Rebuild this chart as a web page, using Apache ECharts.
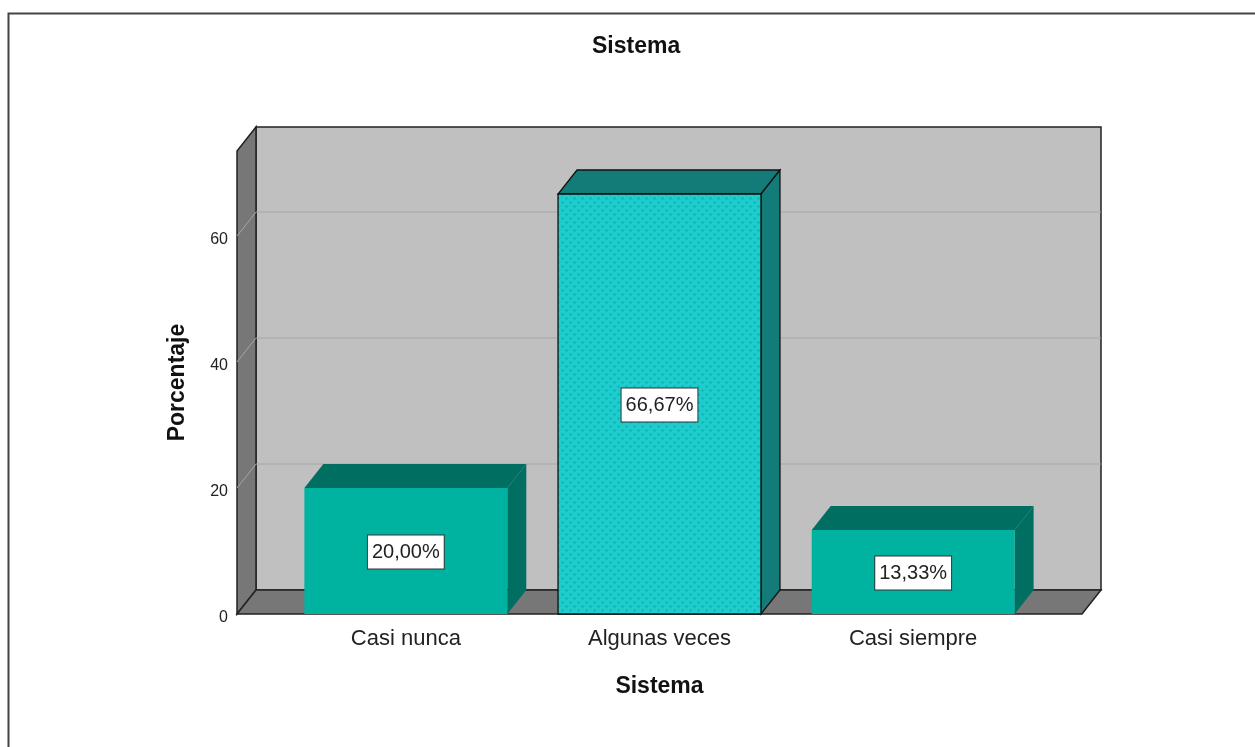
<!DOCTYPE html>
<html>
<head>
<meta charset="utf-8">
<script src="https://cdn.jsdelivr.net/npm/echarts@6/dist/echarts.min.js"></script>
<style>
html,body{margin:0;padding:0;background:#fff;}
#chart{width:1255px;height:747px;}
</style>
</head>
<body>
<div id="chart"></div>
<script>
// ---- data ----
const categories = ['Casi nunca', 'Algunas veces', 'Casi siempre'];
const percentages = [20.00, 66.67, 13.33];
const valueLabels = ['20,00%', '66,67%', '13,33%'];
const yTicks = [0, 20, 40, 60];

// ---- style constants ----
const DX = 19, DY = -24, PAD = 42;
const FONT = 'Liberation Sans, Arial, sans-serif';

function makePattern() {
  const c = document.createElement('canvas');
  c.width = 8; c.height = 8;
  const g = c.getContext('2d');
  g.fillStyle = '#1dcdcd'; g.fillRect(0, 0, 8, 8);
  g.fillStyle = '#17b4b4';
  [[2, 2], [6, 6]].forEach(([x, y]) => {
    g.fillRect(x - 1, y, 3, 1);
    g.fillRect(x, y - 1, 1, 3);
  });
  return c;
}
const pattern = makePattern();

const barStyles = [
  {front: '#00b3a0', dark: '#006f62', stroke: null},
  {front: {image: pattern, repeat: 'repeat'}, dark: '#137c78', stroke: '#111'},
  {front: '#00b3a0', dark: '#006f62', stroke: null}
];

function renderWalls(params, api) {
  const cs = params.coordSys;
  const x0 = cs.x - PAD, x1 = cs.x + cs.width + PAD;
  const yT = cs.y, yB = cs.y + cs.height;
  return {
    type: 'group',
    children: [
      {type: 'rect', shape: {x: x0 + DX, y: yT + DY, width: x1 - x0, height: yB - yT},
        style: {fill: '#c0c0c0', stroke: '#222', lineWidth: 1.5}},
      {type: 'polygon', shape: {points: [[x0, yB], [x0, yT], [x0 + DX, yT + DY], [x0 + DX, yB + DY]]},
        style: {fill: '#777777', stroke: '#222', lineWidth: 1.5}},
      {type: 'polygon', shape: {points: [[x0, yB], [x1, yB], [x1 + DX, yB + DY], [x0 + DX, yB + DY]]},
        style: {fill: '#777777', stroke: '#222', lineWidth: 1.5}}
    ]
  };
}

function renderGrid(params, api) {
  const cs = params.coordSys;
  const x0 = cs.x - PAD, x1 = cs.x + cs.width + PAD;
  const y = api.coord([0, api.value(0)])[1];
  return {
    type: 'group',
    children: [
      {type: 'line', shape: {x1: x0, y1: y, x2: x0 + DX, y2: y + DY}, style: {stroke: '#a6a6a6', lineWidth: 1}},
      {type: 'line', shape: {x1: x0 + DX, y1: y + DY, x2: x1 + DX, y2: y + DY}, style: {stroke: '#a6a6a6', lineWidth: 1}}
    ]
  };
}

function renderBar(params, api) {
  const i = params.dataIndex;
  const top = api.coord([api.value(0), api.value(1)]);
  const base = api.coord([api.value(0), 0]);
  const band = api.size([1, 0])[0];
  const w = band * 0.8;
  const xl = top[0] - w / 2, xr = top[0] + w / 2, yt = top[1], yb = base[1];
  const st = barStyles[i];
  const stroke = st.stroke || 'rgba(0,0,0,0)';
  const lw = st.stroke ? 1.3 : 0;
  return {
    type: 'group',
    children: [
      {type: 'polygon', shape: {points: [[xl, yt], [xr, yt], [xr + DX, yt + DY], [xl + DX, yt + DY]]},
        style: {fill: st.dark, stroke: stroke, lineWidth: lw}},
      {type: 'polygon', shape: {points: [[xr, yb], [xr, yt], [xr + DX, yt + DY], [xr + DX, yb + DY]]},
        style: {fill: st.dark, stroke: stroke, lineWidth: lw}},
      {type: 'rect', shape: {x: xl, y: yt, width: w, height: yb - yt},
        style: {fill: st.front, stroke: stroke, lineWidth: lw}},
      {type: 'text', x: top[0], y: (yt + yb) / 2 + 1,
        style: {text: valueLabels[i], fill: '#222', font: '20px ' + FONT,
          align: 'center', verticalAlign: 'middle',
          backgroundColor: '#fff', borderColor: '#333', borderWidth: 1,
          padding: [7, 4, 6, 4]}}
    ]
  };
}

const chart = echarts.init(document.getElementById('chart'), null, {renderer: 'canvas'});
chart.setOption({
  animation: false,
  backgroundColor: '#fff',
  title: {
    text: 'Sistema', left: 587, top: 30,
    textStyle: {fontFamily: FONT, fontSize: 23, fontWeight: 'bold', color: '#111'}
  },
  graphic: [{
    type: 'rect', left: 6, top: 11, z: -10,
    shape: {x: 0, y: 0, width: 1300, height: 800},
    style: {fill: 'none', stroke: '#444', lineWidth: 2}
  }],
  grid: {left: 279, right: 215, top: 151, bottom: 133},
  xAxis: {
    type: 'category', data: categories,
    axisLine: {show: false}, axisTick: {show: false}, splitLine: {show: false},
    axisLabel: {fontFamily: FONT, fontSize: 22, color: '#222', margin: 14},
    name: 'Sistema', nameLocation: 'middle', nameGap: 61,
    nameTextStyle: {fontFamily: FONT, fontSize: 23, fontWeight: 'bold', color: '#111'}
  },
  yAxis: {
    type: 'value', min: 0, max: 73.5, interval: 20,
    axisLine: {show: false}, axisTick: {show: false}, splitLine: {show: false},
    axisLabel: {fontFamily: FONT, fontSize: 16, color: '#222', margin: 51, showMaxLabel: false,
      formatter: v => (yTicks.indexOf(v) >= 0 ? '{t|' + v + '}' : ''),
      rich: {t: {fontFamily: FONT, fontSize: 16, color: '#222', padding: [8, 0, 0, 0]}}},
    name: 'Porcentaje', nameLocation: 'middle', nameGap: 90,
    nameTextStyle: {fontFamily: FONT, fontSize: 23, fontWeight: 'bold', color: '#111'}
  },
  series: [
    {type: 'custom', renderItem: renderWalls, data: [[0, 0]], z: 1, silent: true},
    {type: 'custom', renderItem: renderGrid, data: yTicks.filter(t => t > 0).map(t => [t]), z: 2, silent: true,
      encode: {y: 0}},
    {type: 'custom', renderItem: renderBar, data: categories.map((c, i) => [i, percentages[i]]), z: 3,
      encode: {x: 0, y: 1}}
  ]
});
</script>
</body>
</html>
